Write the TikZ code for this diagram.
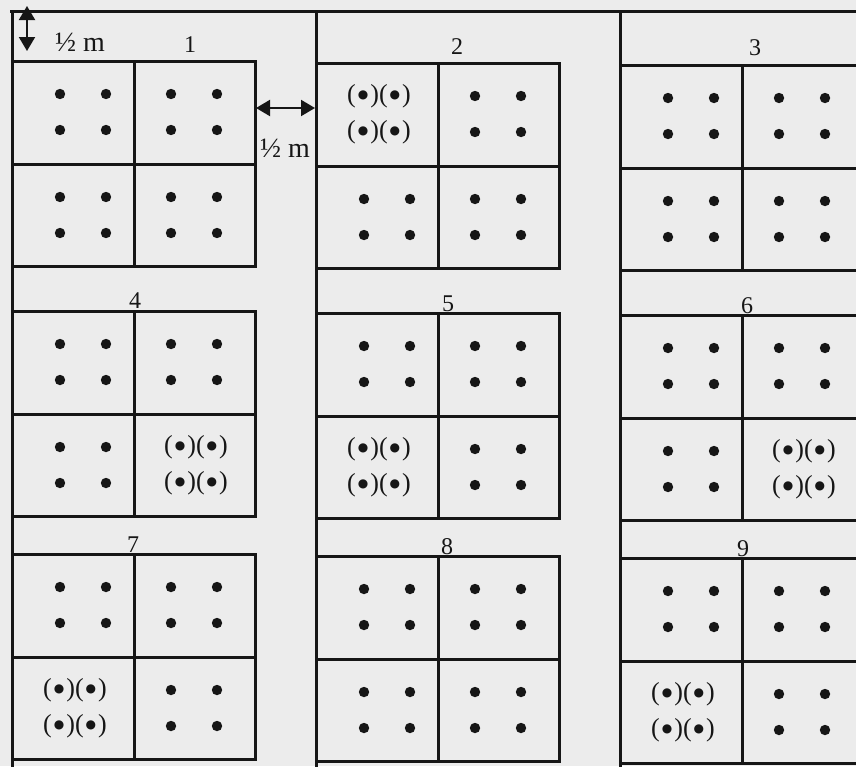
\documentclass[tikz,border=0pt]{standalone}
\usepackage{fontspec}
\setmainfont{Liberation Serif}
\newfontfamily\dotfont{DejaVu Sans}
\usetikzlibrary{arrows.meta}
\definecolor{PaperClr}{RGB}{236,236,236}
\definecolor{LineClr}{RGB}{22,22,22}
\newcommand{\bseed}{(\kern2pt\raisebox{3.5pt}{\dotfont\fontsize{12}{12}\selectfont●}\kern2pt)}

\begin{document}
\begin{tikzpicture}[x=1pt,y=-1pt,
  plotline/.style={line width=3pt,color=LineClr},
  seed/.style={fill=LineClr},
  plotnum/.style={font=\fontsize{24}{28}\selectfont,inner sep=0pt,anchor=base,text=LineClr},
  halfm/.style={plotnum,font=\fontsize{28}{32}\selectfont},
  pair/.style={font=\fontsize{26}{30}\selectfont,inner sep=0pt,text=LineClr},
  dist/.style={line width=2pt,color=LineClr,{Triangle[length=14pt,width=16pt]}-{Triangle[length=14pt,width=16pt]}}]

\fill[PaperClr] (0,0) rectangle (856,766);
\useasboundingbox (0,0) rectangle (856,766);
\clip (0,0) rectangle (856,766);

% field edge and the paths between columns
\draw[plotline] (10,11) -- (870,11);
\foreach \cx in {12,316,620}
  \draw[plotline] (\cx,11) -- (\cx,770);

% plots: left / top / number x / number base / number / cell with bracketed seeds
\foreach \px/\py/\nx/\ny/\num/\pc in {12/61/190/52/1/0, 316/63/457/54/2/1, 620/65/755/55/3/0,
    12/311/135/308/4/4, 316/313/448/311/5/3, 620/315/747/313/6/4,
    12/554/133/552/7/3, 316/556/447/554/8/0, 620/558/743/556/9/3}{
  \draw[plotline] (\px,\py) rectangle ++(243,205);
  \draw[plotline] (\px+122,\py) -- ++(0,205);
  \draw[plotline] (\px,\py+103) -- ++(243,0);
  \node[plotnum] (n\num) at (\nx,\ny) {\num};
  \foreach \c/\ox/\oy/\sh in {1/0/0/10, 2/1/0/0, 3/0/1/10, 4/1/1/0}{
    \ifnum\c=\pc
      \node[pair] (p\num a) at (\px+63+\ox*121,\py+33+\oy*103) {\bseed\bseed};
      \node[pair] (p\num b) at (\px+63+\ox*121,\py+69+\oy*103) {\bseed\bseed};
    \else
      \foreach \dx in {-23,23}
        \foreach \dy in {-18,18}
          \fill[seed] (\px+61+\ox*121+\sh+\dx,\py+51+\oy*103+\dy) circle (5.2);
    \fi
  }
}

% half metre spacings
\coordinate (vTop) at (27,6);
\coordinate (vBot) at (27,51);
\coordinate (hL) at (256,108);
\coordinate (hR) at (315,108);
\draw[dist] (vTop) -- (vBot);
\draw[dist] (hL) -- (hR);
\node[halfm] (halfTop) at (80,51) {½ m};
\node[halfm] (halfGap) at (285,157) {½ m};

\end{tikzpicture}
\end{document}
